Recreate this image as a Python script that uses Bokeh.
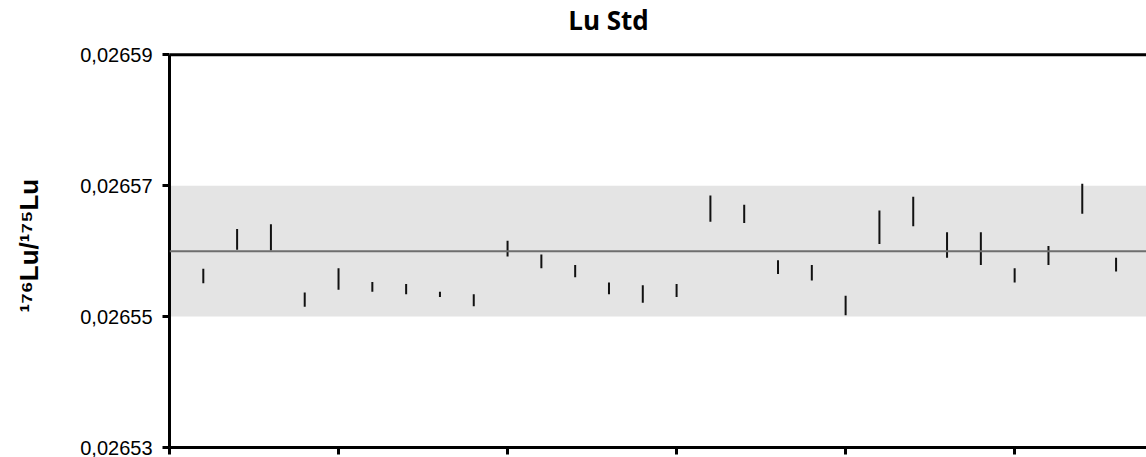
from bokeh.plotting import figure
from bokeh.models import (BoxAnnotation, Span, FixedTicker, CustomJSTickFormatter,
                          Label, Range1d)
from bokeh.embed import file_html
from bokeh.resources import INLINE

# ---- data ----
sample = list(range(1, 29))
upper = [0.0265573, 0.0265634, 0.0265641, 0.0265537, 0.0265574, 0.0265553, 0.0265550,
         0.0265538, 0.0265534, 0.0265616, 0.0265595, 0.0265579, 0.0265552, 0.0265548,
         0.0265550, 0.0265685, 0.0265671, 0.0265586, 0.0265579, 0.0265532, 0.0265662,
         0.0265683, 0.0265629, 0.0265629, 0.0265574, 0.0265608, 0.0265703, 0.0265590]
lower = [0.0265551, 0.0265602, 0.0265601, 0.0265515, 0.0265541, 0.0265538, 0.0265534,
         0.0265530, 0.0265516, 0.0265592, 0.0265574, 0.0265560, 0.0265534, 0.0265521,
         0.0265530, 0.0265645, 0.0265643, 0.0265565, 0.0265555, 0.0265502, 0.0265611,
         0.0265638, 0.0265590, 0.0265579, 0.0265552, 0.0265579, 0.0265657, 0.0265569]
mean_value = 0.02656
band_low = 0.02655
band_high = 0.02657
y_min, y_max = 0.02653, 0.02659
y_ticks = [0.02653, 0.02655, 0.02657, 0.02659]
x_ticks = [0, 5, 10, 15, 20, 25]
title_text = "Lu Std"
# trailing no-break spaces shift the rotated label down to where the original sits
y_label = "\u00b9\u2077\u2076Lu/\u00b9\u2077\u2075Lu" + "\u00a0" * 6

# frame extends to the top of the canvas so that the title can live inside it
p = figure(width=1146, height=457, output_backend="svg", toolbar_location=None,
           x_range=Range1d(0, 28.9), y_range=Range1d(y_min, 0.0265983),
           min_border_left=169, min_border_right=0, min_border_top=0,
           min_border_bottom=10)
p.outline_line_color = None
p.xgrid.visible = False
p.ygrid.visible = False
p.background_fill_color = "white"
p.border_fill_color = "white"

p.add_layout(BoxAnnotation(bottom=band_low, top=band_high, fill_color="#e4e4e4",
                           fill_alpha=1.0, line_color=None, level="underlay"))
p.add_layout(Span(location=mean_value, dimension="width", line_color="#6e6e6e",
                  line_width=2))
# top spine
p.add_layout(Span(location=y_max, dimension="width", line_color="black", line_width=3))

p.segment(x0=sample, y0=lower, x1=sample, y1=upper, line_color="#111111", line_width=2)

# title
p.add_layout(Label(x=439, y=428, x_units="screen", y_units="screen", text=title_text,
                   text_font="Open Sans", text_font_style="bold", text_font_size="26px",
                   text_align="center", text_baseline="alphabetic", text_color="black"))

# y axis
ya = p.yaxis[0]
ya.bounds = (y_min, y_max)
ya.ticker = FixedTicker(ticks=y_ticks)
ya.formatter = CustomJSTickFormatter(code="return tick.toFixed(5).replace('.', ',');")
ya.axis_line_width = 3
ya.axis_line_color = "black"
ya.major_tick_line_width = 3
ya.major_tick_out = 7
ya.major_tick_in = 0
ya.minor_tick_out = 0
ya.minor_tick_in = 0
ya.major_label_standoff = 10
ya.major_label_text_font = "Liberation Sans"
ya.major_label_text_font_size = "20px"
ya.major_label_text_color = "black"
ya.axis_label = y_label
ya.axis_label_text_font = "Liberation Sans"
ya.axis_label_text_font_style = "bold"
ya.axis_label_text_font_size = "26px"
ya.axis_label_text_color = "black"
ya.axis_label_standoff = 33

# x axis
xa = p.xaxis[0]
xa.ticker = FixedTicker(ticks=x_ticks)
xa.formatter = CustomJSTickFormatter(code="return '';")
xa.axis_line_width = 3
xa.axis_line_color = "black"
xa.major_tick_line_width = 3
xa.major_tick_out = 7
xa.major_tick_in = 0
xa.minor_tick_out = 0
xa.minor_tick_in = 0
xa.major_label_standoff = 0
xa.major_label_text_font_size = "1px"

open("out.html", "w").write(file_html(p, INLINE))
